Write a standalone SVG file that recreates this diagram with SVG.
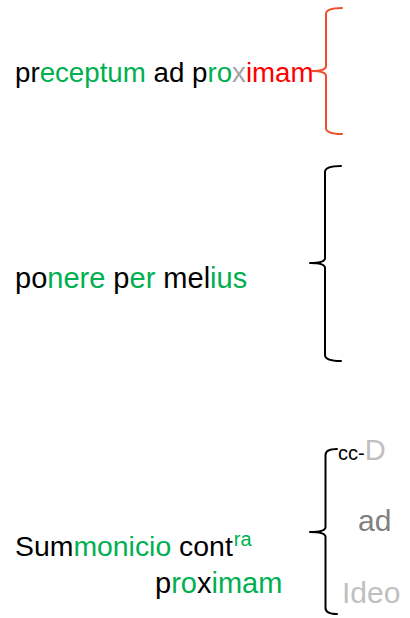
<svg xmlns="http://www.w3.org/2000/svg" width="410" height="618" viewBox="0 0 410 618">
<style>
text{font-family:"Liberation Sans",Arial,sans-serif;fill:#000}
.g{fill:#00B050}
.r{fill:#FF0000}
.x{fill:#A6A6A6}
.lg{fill:#BFBFBF}
.dg{fill:#808080}
.brace{fill:none;stroke-width:2;stroke-linecap:round;stroke-linejoin:round}
</style>
<rect width="410" height="618" fill="#fff"/>
<g id="node-preceptum">
<text x="15" y="82" font-size="27.7">pr<tspan class="g">eceptum</tspan> ad p<tspan class="g">ro</tspan><tspan class="x">x</tspan><tspan class="r">imam</tspan></text>
</g>
<g id="node-ponere">
<text x="15" y="288" font-size="29">po<tspan class="g">nere</tspan> p<tspan class="g">er</tspan> mel<tspan class="g">ius</tspan></text>
</g>
<g id="node-summonicio">
<text x="15" y="556" font-size="28.4">Sum<tspan class="g">monicio</tspan> cont<tspan class="g" font-size="20" dx="1" dy="-10">ra</tspan></text>
<text x="155" y="593" font-size="29">p<tspan class="g">ro</tspan>x<tspan class="g">imam</tspan></text>
</g>
<g id="node-ccD">
<text x="338" y="460" font-size="20">cc-<tspan class="lg" font-size="29">D</tspan></text>
</g>
<g id="node-ad">
<text x="358" y="531" font-size="30" class="dg">ad</text>
</g>
<g id="node-ideo">
<text x="342" y="603" font-size="30" class="lg">Ideo</text>
</g>
<g id="connectors">
<path class="brace" stroke="#EE4F2A" d="M342,8 Q326,8 326,14 L326,66 Q326,71 312,71 Q326,71 326,76 L326,128 Q326,134 342,134"/>
<path class="brace" stroke="#000" d="M341,166 Q325,166 325,172 L325,258 Q325,263 310,263 Q325,263 325,268 L325,355 Q325,361 341,361"/>
<path class="brace" stroke="#000" d="M337,449 Q325.5,449 325.5,455 L325.5,527 Q325.5,532 310,532 Q325.5,532 325.5,537 L325.5,608 Q325.5,614 337,614"/>
</g>
</svg>
